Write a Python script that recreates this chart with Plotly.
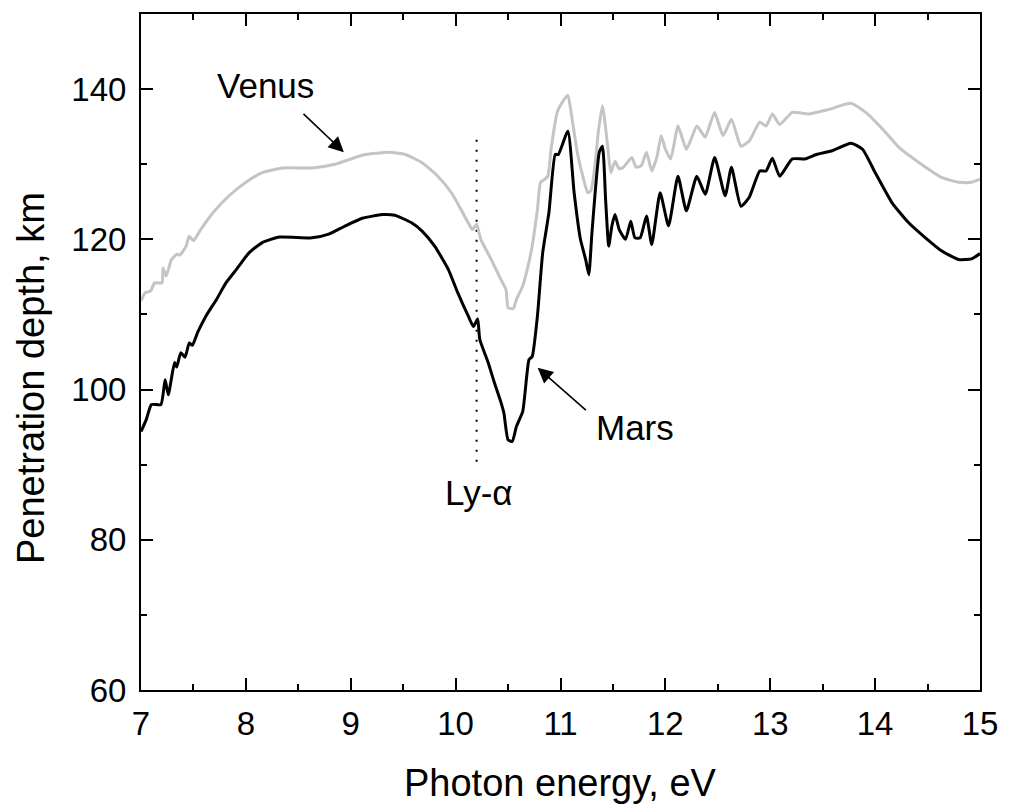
import plotly.graph_objects as go

# Venus (grey curve)
venus_e = [7.00, 7.04, 7.09, 7.13, 7.20, 7.21, 7.24, 7.29, 7.34, 7.37,
           7.43, 7.46, 7.50, 7.56, 7.69, 7.84, 8.00, 8.16, 8.35, 8.63,
           8.85, 9.11, 9.36, 9.52, 9.68, 9.83, 9.96, 10.05, 10.12, 10.16,
           10.20, 10.24, 10.34, 10.43, 10.48, 10.50, 10.55, 10.58, 10.64, 10.69,
           10.73, 10.78, 10.81, 10.85, 10.88, 10.91, 10.97, 11.02, 11.07, 11.10,
           11.16, 11.22, 11.26, 11.29, 11.33, 11.36, 11.40, 11.45, 11.48, 11.52,
           11.56, 11.60, 11.68, 11.72, 11.77, 11.82, 11.87, 11.92, 11.96, 12.00,
           12.05, 12.12, 12.16, 12.20, 12.25, 12.30, 12.38, 12.43, 12.47, 12.55,
           12.63, 12.72, 12.80, 12.90, 12.96, 13.02, 13.09, 13.21, 13.37, 13.56,
           13.77, 13.91, 14.07, 14.23, 14.42, 14.64, 14.80, 14.92, 15.00]
venus_d = [111.8, 112.9, 113.1, 114.2, 114.2, 116.2, 115.1, 117.3, 118.0, 117.9,
           119.1, 120.4, 119.8, 121.1, 123.6, 125.8, 127.6, 128.9, 129.5, 129.5,
           130.0, 131.2, 131.6, 131.3, 130.2, 128.4, 126.2, 124.0, 122.2, 121.3,
           122.0, 120.0, 117.3, 114.7, 113.3, 110.9, 110.8, 112.0, 113.8, 116.4,
           119.1, 124.0, 127.6, 128.0, 128.4, 132.0, 137.0, 138.3, 139.2, 137.0,
           131.6, 128.0, 126.2, 126.5, 130.0, 134.2, 137.8, 132.4, 128.9, 130.4,
           129.4, 129.6, 130.9, 129.6, 129.8, 131.6, 129.1, 131.0, 133.8, 132.0,
           130.7, 135.1, 133.5, 132.0, 133.5, 135.1, 133.6, 135.5, 136.9, 133.8,
           136.0, 132.4, 133.1, 135.6, 135.1, 136.7, 135.3, 136.9, 136.7, 137.3,
           138.1, 136.9, 134.7, 132.2, 130.2, 128.2, 127.6, 127.6, 128.0]

# Mars (black curve)
mars_e = [7.00, 7.05, 7.10, 7.19, 7.23, 7.26, 7.32, 7.34, 7.38, 7.42,
          7.46, 7.49, 7.54, 7.62, 7.72, 7.81, 7.91, 8.03, 8.16, 8.32,
          8.63, 8.79, 8.95, 9.11, 9.30, 9.42, 9.58, 9.68, 9.80, 9.93,
          10.02, 10.12, 10.17, 10.21, 10.23, 10.31, 10.37, 10.43, 10.46, 10.50,
          10.54, 10.58, 10.64, 10.70, 10.73, 10.78, 10.83, 10.89, 10.95, 10.98,
          11.07, 11.13, 11.19, 11.24, 11.27, 11.30, 11.37, 11.40, 11.43, 11.46,
          11.49, 11.52, 11.56, 11.62, 11.67, 11.71, 11.76, 11.82, 11.87, 11.95,
          12.03, 12.12, 12.20, 12.30, 12.38, 12.47, 12.57, 12.63, 12.72, 12.80,
          12.90, 12.96, 13.02, 13.09, 13.21, 13.33, 13.44, 13.59, 13.77, 13.88,
          14.00, 14.16, 14.32, 14.48, 14.64, 14.80, 14.92, 15.00]
mars_d = [94.4, 96.0, 98.0, 98.0, 101.3, 99.3, 103.6, 103.0, 104.9, 104.3,
          106.2, 105.9, 107.6, 109.8, 112.0, 114.2, 116.0, 118.2, 119.6, 120.3,
          120.2, 120.7, 121.8, 122.8, 123.3, 123.2, 122.2, 121.1, 119.1, 116.0,
          112.9, 109.8, 108.4, 109.4, 106.7, 103.6, 100.9, 98.4, 96.9, 93.3,
          93.1, 95.1, 97.1, 104.0, 104.4, 109.8, 118.2, 123.6, 131.3, 131.3,
          134.4, 126.2, 120.0, 117.3, 115.3, 120.9, 131.6, 132.4, 125.3, 119.1,
          121.8, 123.3, 121.3, 120.0, 122.4, 120.2, 120.2, 123.1, 119.3, 126.2,
          121.8, 128.4, 123.8, 128.4, 126.0, 130.9, 125.8, 129.6, 124.4, 125.6,
          129.1, 129.1, 130.8, 128.4, 130.7, 130.7, 131.3, 131.8, 132.8, 132.0,
          128.9, 124.9, 122.2, 120.2, 118.4, 117.3, 117.4, 118.1]

# Lyman-alpha marker
lya_e = [10.2, 10.2]
lya_d = [90.4, 133.6]

x_ticks = [7, 8, 9, 10, 11, 12, 13, 14, 15]
y_ticks = [60, 80, 100, 120, 140]

FONT = "Liberation Sans, Arial, sans-serif"

fig = go.Figure()
fig.add_trace(go.Scatter(x=lya_e, y=lya_d, mode="lines",
                         line=dict(color="black", width=2, dash="2px,8px"),
                         showlegend=False, hoverinfo="skip"))
fig.add_trace(go.Scatter(x=venus_e, y=venus_d, mode="lines", name="Venus",
                         line=dict(color="#c4c4c4", width=3, shape="spline", smoothing=0.5),
                         showlegend=False))
fig.add_trace(go.Scatter(x=mars_e, y=mars_d, mode="lines", name="Mars",
                         line=dict(color="black", width=3, shape="spline", smoothing=0.5),
                         showlegend=False))

axis_common = dict(
    showline=True, linecolor="black", linewidth=2, mirror="ticks",
    ticks="inside", ticklen=12, tickwidth=2, tickcolor="black",
    showgrid=False, zeroline=False,
    tickfont=dict(family=FONT, size=33, color="black"),
)

fig.update_xaxes(range=[7, 15], tickvals=x_ticks, ticklabelstandoff=3,
                 minor=dict(dtick=0.5, ticks="inside", ticklen=6, tickwidth=2, tickcolor="black", showgrid=False),
                 **axis_common)
fig.update_yaxes(range=[60, 150], tickvals=y_ticks, ticklabelstandoff=6,
                 minor=dict(dtick=10, ticks="inside", ticklen=6, tickwidth=2, tickcolor="black", showgrid=False),
                 **axis_common)

title_font = dict(family=FONT, size=38, color="black")
fig.add_annotation(text="Photon energy, eV", xref="paper", yref="paper", x=0.5, y=0,
                   xanchor="center", yanchor="middle", yshift=-93, showarrow=False, font=title_font)
fig.add_annotation(text="Penetration depth, km", xref="paper", yref="paper", x=0, y=0.5,
                   xanchor="center", yanchor="middle", xshift=-110, yshift=-26, textangle=-90,
                   showarrow=False, font=title_font)

ann_font = dict(family=FONT, size=35, color="black")
fig.add_annotation(x=8.185, y=140.5, text="Venus", showarrow=False, font=ann_font)
fig.add_annotation(x=8.934, y=131.6, ax=8.535, ay=136.9, axref="x", ayref="y",
                   text="", showarrow=True, arrowhead=2, arrowsize=1.9, arrowwidth=1.6, arrowcolor="black")
fig.add_annotation(x=11.706, y=94.9, text="Mars", showarrow=False, font=ann_font)
fig.add_annotation(x=10.782, y=102.9, ax=11.256, ay=97.1, axref="x", ayref="y",
                   text="", showarrow=True, arrowhead=2, arrowsize=1.9, arrowwidth=1.6, arrowcolor="black")
fig.add_annotation(x=10.227, y=86.3, text="Ly-α", showarrow=False, font=ann_font)

fig.update_layout(
    width=1010, height=808,
    margin=dict(l=141, r=25, t=12, b=118),
    paper_bgcolor="white", plot_bgcolor="white",
    font=dict(family=FONT, color="black"),
)

fig.write_html("out.html")
